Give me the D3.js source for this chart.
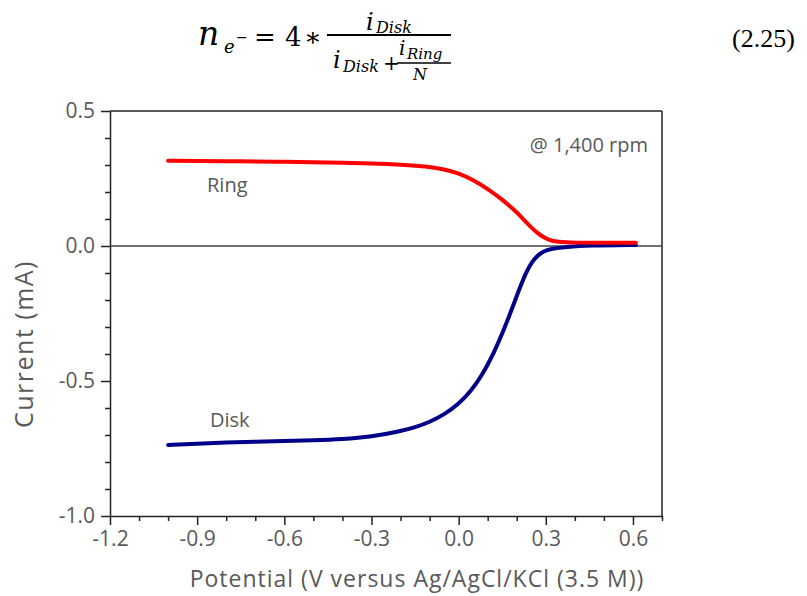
<!DOCTYPE html>
<html>
<head>
<meta charset="utf-8">
<script src="https://cdn.jsdelivr.net/npm/d3@7"></script>
<style>
  body { margin: 0; background: #fff; }
  text { font-family: "Open Sans", sans-serif; }
</style>
</head>
<body>
<div id="chart"></div>
<script>
// ring current (mA) vs potential (V)
const ringPotential = [-1.00, -0.90, -0.80, -0.70, -0.60, -0.50, -0.40, -0.30, -0.20, -0.10, -0.05, 0.00, 0.05, 0.10, 0.15, 0.19, 0.22, 0.25, 0.28, 0.31, 0.34, 0.40, 0.50, 0.61];
const ringCurrent   = [0.316, 0.315, 0.314, 0.313, 0.312, 0.310, 0.308, 0.306, 0.302, 0.294, 0.284, 0.270, 0.245, 0.212, 0.172, 0.135, 0.103, 0.068, 0.040, 0.022, 0.015, 0.012, 0.012, 0.012];
// disk current
const diskPotential = [-1.00, -0.90, -0.80, -0.70, -0.60, -0.50, -0.40, -0.30, -0.20, -0.15, -0.10, -0.05, 0.00, 0.04, 0.08, 0.12, 0.16, 0.20, 0.23, 0.26, 0.29, 0.32, 0.37, 0.45, 0.61];
const diskCurrent   = [-0.737, -0.732, -0.728, -0.725, -0.722, -0.720, -0.716, -0.707, -0.686, -0.672, -0.652, -0.625, -0.585, -0.541, -0.480, -0.400, -0.300, -0.185, -0.100, -0.045, -0.020, -0.010, -0.003, 0.002, 0.004];

const xTicks = [-1.2, -0.9, -0.6, -0.3, 0.0, 0.3, 0.6];
const yTicks = [-1.0, -0.5, 0.0, 0.5];

const W = 807, H = 596;
const pLeft = 110, pRight = 662, pTop = 111, pBottom = 516;
const grey = "#595959";

const svg = d3.select("#chart").append("svg")
  .attr("width", W).attr("height", H);

const x = d3.scaleLinear().domain([-1.2, 0.7]).range([pLeft, pRight]);
const y = d3.scaleLinear().domain([-1.0, 0.5]).range([pBottom, pTop]);

// equation at top
function eqText(px, py, size, italic, str, fam) {
  return svg.append("text").attr("x", px).attr("y", py)
    .style("font-family", fam || "'DejaVu Serif', serif")
    .style("font-style", italic ? "italic" : "normal")
    .style("font-size", size + "px")
    .attr("fill", "#000").text(str);
}
eqText(198, 45, 33, true, "n");
eqText(224, 53, 18, true, "e");
eqText(236, 42, 14, false, "\u2212");
eqText(254, 46, 26, false, "=");
eqText(285, 46, 26, false, "4");
eqText(304, 46, 26, false, "\u2217");
svg.append("line").attr("x1", 327).attr("x2", 451).attr("y1", 35).attr("y2", 35).attr("stroke", "#000").attr("stroke-width", 2);
eqText(366, 30, 24, true, "i");
eqText(376, 33, 16, true, "Disk");
eqText(333, 68, 24, true, "i");
eqText(343, 72, 16, true, "Disk");
eqText(383, 70, 20, false, "+");
svg.append("line").attr("x1", 397).attr("x2", 451).attr("y1", 63).attr("y2", 63).attr("stroke", "#000").attr("stroke-width", 1.5);
eqText(399, 55, 20, true, "i");
eqText(407, 59, 15, true, "Ring");
eqText(413, 80, 16, true, "N");
eqText(732, 47, 26, false, "(2.25)", "'Liberation Serif', serif");

// box and zero line
svg.append("line").attr("x1", pLeft).attr("x2", pRight).attr("y1", pTop).attr("y2", pTop)
  .attr("stroke", "#222").attr("stroke-width", 1.5);
svg.append("line").attr("x1", pRight).attr("x2", pRight).attr("y1", pTop).attr("y2", pBottom)
  .attr("stroke", "#222").attr("stroke-width", 1.5);
svg.append("line").attr("x1", pLeft).attr("x2", pRight).attr("y1", y(0)).attr("y2", y(0))
  .attr("stroke", "#444").attr("stroke-width", 1.5);

// minor ticks
const xMinor = d3.range(-12, 8).map(d => d / 10).filter(v => !xTicks.some(t => Math.abs(t - v) < 1e-6));
const yMinor = d3.range(-10, 6).map(d => d / 10).filter(v => !yTicks.some(t => Math.abs(t - v) < 1e-6));

const xAxisG = svg.append("g").attr("transform", "translate(0," + pBottom + ")");
xAxisG.call(d3.axisBottom(x).tickValues(xMinor).tickSize(5).tickFormat(""));
xAxisG.call(g => g.select(".domain").remove());
const xAxisMain = svg.append("g").attr("transform", "translate(0," + pBottom + ")")
  .call(d3.axisBottom(x).tickValues(xTicks).tickSize(9).tickSizeOuter(0).tickPadding(5).tickFormat(d => d.toFixed(1)));

const yAxisG = svg.append("g").attr("transform", "translate(" + pLeft + ",0)");
yAxisG.call(d3.axisLeft(y).tickValues(yMinor).tickSize(5).tickFormat(""));
yAxisG.call(g => g.select(".domain").remove());
const yAxisMain = svg.append("g").attr("transform", "translate(" + pLeft + ",0)")
  .call(d3.axisLeft(y).tickValues(yTicks).tickSize(9).tickSizeOuter(0).tickPadding(6).tickFormat(d => d.toFixed(1)));

svg.selectAll(".domain, .tick line").attr("stroke", "#222").attr("stroke-width", 1.5);
svg.selectAll(".tick text").attr("fill", grey).style("font-family", "'Open Sans'").style("font-size", "21px");
xAxisMain.selectAll(".tick text").attr("dy", "0.75em");

// curves
const line = d3.line().x(d => x(d[0])).y(d => y(d[1])).curve(d3.curveBasis);
svg.append("path").datum(d3.zip(diskPotential, diskCurrent))
  .attr("d", line).attr("fill", "none").attr("stroke", "#000088").attr("stroke-width", 4).attr("stroke-linecap", "round");
svg.append("path").datum(d3.zip(ringPotential, ringCurrent))
  .attr("d", line).attr("fill", "none").attr("stroke", "#ff0000").attr("stroke-width", 4).attr("stroke-linecap", "round");

// annotations
svg.append("text").attr("x", 207).attr("y", 192).attr("fill", grey).style("font-size", "20px").text("Ring");
svg.append("text").attr("x", 210).attr("y", 427).attr("fill", grey).style("font-size", "20px").text("Disk");
svg.append("text").attr("x", 648).attr("y", 152).attr("text-anchor", "end").attr("fill", grey).style("font-size", "20px").text("@ 1,400 rpm");

// axis titles
svg.append("text").attr("x", 417).attr("y", 587).attr("text-anchor", "middle")
  .attr("fill", grey).style("font-size", "23px").style("letter-spacing", "1px")
  .text("Potential (V versus Ag/AgCl/KCl (3.5 M))");
svg.append("text").attr("transform", "translate(33,344) rotate(-90)").attr("text-anchor", "middle")
  .attr("fill", grey).style("font-size", "25px").style("letter-spacing", "1.5px")
  .text("Current (mA)");
</script>
</body>
</html>
